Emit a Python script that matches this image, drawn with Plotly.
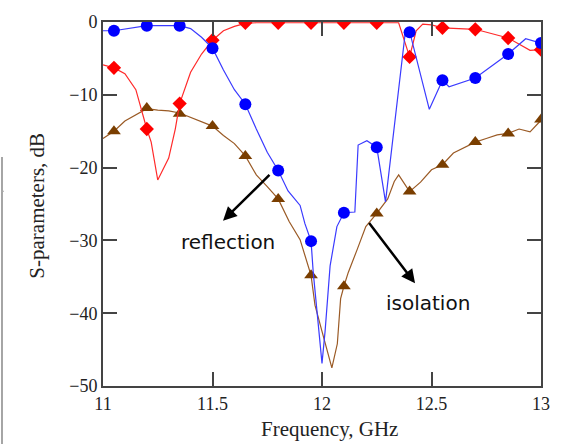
import plotly.graph_objects as go

# ---------------- data ----------------
# Reflection (blue, circles) - line samples
refl_f = [11.0, 11.05, 11.2, 11.35, 11.4, 11.45, 11.5, 11.55, 11.6, 11.65, 11.7, 11.75, 11.8,
          11.845, 11.9, 11.922, 11.95, 11.96, 11.986, 12.0, 12.014, 12.037, 12.068, 12.1,
          12.15, 12.165, 12.205, 12.25, 12.29, 12.38, 12.4, 12.49, 12.55, 12.58, 12.7,
          12.75, 12.85, 12.93, 13.0]
refl_db = [-1.2, -1.2, -0.5, -0.5, -0.9, -2.1, -3.6, -6.6, -9.3, -11.3, -14.7, -17.9, -20.4,
           -23.2, -25.2, -27.7, -30.1, -34.4, -42.5, -46.9, -42.5, -33.5, -28.1, -26.2,
           -26.1, -16.9, -16.3, -17.2, -24.7, -1.5, -1.3, -12.0, -8.0, -8.9, -7.7,
           -6.6, -4.4, -2.3, -2.9]

# Transmission (red, diamonds) - line samples
trans_f = [11.0, 11.05, 11.1, 11.15, 11.2, 11.22, 11.25, 11.3, 11.33, 11.35, 11.4, 11.45,
           11.5, 11.55, 11.6, 11.65, 11.7, 11.8, 11.95, 12.1, 12.25, 12.35, 12.4, 12.43,
           12.46, 12.5, 12.55, 12.7, 12.85, 12.95, 13.0]
trans_db = [-5.9, -6.3, -7.1, -9.3, -14.7, -16.5, -21.7, -18.7, -14.7, -11.2, -6.9, -4.4,
            -2.5, -1.2, -0.6, -0.2, -0.1, -0.1, -0.1, -0.1, -0.1, -0.1, -4.8, -1.2,
            -0.3, -0.4, -0.8, -1.0, -2.2, -3.9, -3.8]

# Isolation (brown, triangles) - line samples
iso_f = [11.0, 11.05, 11.1, 11.15, 11.2, 11.25, 11.3, 11.35, 11.4, 11.45, 11.5, 11.55, 11.6,
         11.65, 11.7, 11.75, 11.8, 11.85, 11.9, 11.95, 11.968, 12.0, 12.045, 12.07, 12.085,
         12.1, 12.12, 12.16, 12.2, 12.25, 12.3, 12.33, 12.35, 12.4, 12.45, 12.5, 12.55,
         12.6, 12.65, 12.7, 12.75, 12.8, 12.85, 12.9, 12.95, 13.0]
iso_db = [-16.0, -15.0, -13.6, -12.7, -11.9, -12.1, -12.2, -12.5, -13.1, -13.6, -14.3, -15.6,
          -16.7, -18.4, -21.0, -22.6, -24.3, -27.4, -29.9, -34.8, -38.9, -42.5, -47.5, -44.2,
          -38.0, -36.3, -34.4, -31.3, -28.1, -26.3, -24.3, -21.9, -21.0, -23.3, -22.0, -20.3,
          -19.6, -18.0, -17.2, -16.5, -16.0, -15.5, -15.3, -14.7, -15.1, -13.5]

# Marker positions (every 0.15 GHz)
mark_f = [11.05, 11.2, 11.35, 11.5, 11.65, 11.8, 11.95, 12.1, 12.25, 12.4, 12.55, 12.7, 12.85, 13.0]
refl_mark = [-1.2, -0.5, -0.5, -3.6, -11.3, -20.4, -30.1, -26.2, -17.2, -1.4, -8.0, -7.7, -4.4, -2.9]
trans_mark = [-6.3, -14.7, -11.2, -2.5, -0.1, -0.1, -0.1, -0.1, -0.1, -4.8, -0.8, -1.0, -2.2, -3.8]
iso_mark = [-15.0, -11.8, -12.6, -14.3, -18.4, -24.3, -34.8, -36.3, -26.3, -23.3, -19.6, -16.5, -15.3, -13.4]

x_ticks = [11, 11.5, 12, 12.5, 13]
x_tick_text = ["11", "11.5", "12", "12.5", "13"]
y_ticks = [0, -10, -20, -30, -40, -50]

# annotation arrows: (tip_f, tip_db, tail_f, tail_db)
refl_arrow = (11.548, -27.3, 11.767, -20.8)
iso_arrow = (12.425, -35.9, 12.21, -27.4)

# ---------------- figure ----------------
fig = go.Figure()

BROWN_L = "#9a5a25"
BROWN_M = "#7a3e00"

fig.add_trace(go.Scatter(x=iso_f, y=iso_db, mode="lines",
                         line=dict(color=BROWN_L, width=1.2), showlegend=False))
fig.add_trace(go.Scatter(x=mark_f, y=iso_mark, mode="markers",
                         marker=dict(symbol="triangle-up", size=12, color=BROWN_M), showlegend=False))

fig.add_trace(go.Scatter(x=trans_f, y=trans_db, mode="lines",
                         line=dict(color="#ff2a2a", width=1.2), showlegend=False))
fig.add_trace(go.Scatter(x=mark_f, y=trans_mark, mode="markers",
                         marker=dict(symbol="diamond", size=11, color="#ff0000"), showlegend=False))

fig.add_trace(go.Scatter(x=refl_f, y=refl_db, mode="lines",
                         line=dict(color="#3a3aff", width=1.2), showlegend=False))
fig.add_trace(go.Scatter(x=mark_f, y=refl_mark, mode="markers",
                         marker=dict(symbol="circle", size=12, color="#0000ff"), showlegend=False))

TICKFONT = dict(family="Liberation Serif, Times New Roman, serif", size=18, color="#222")
AXCOL = "#444"

fig.update_xaxes(range=[11, 13], tickvals=x_ticks, ticktext=x_tick_text,
                 ticks="inside", ticklen=14, tickwidth=1.5, tickcolor=AXCOL,
                 showline=True, linecolor=AXCOL, linewidth=2, mirror="ticks",
                 showgrid=False, zeroline=False, tickfont=TICKFONT)
fig.update_yaxes(range=[-50, 0], tickvals=y_ticks,
                 ticks="inside", ticklen=14, tickwidth=1.5, tickcolor=AXCOL,
                 showline=True, linecolor=AXCOL, linewidth=2, mirror="ticks",
                 showgrid=False, zeroline=False, tickfont=TICKFONT)

anns = []
TITLEFONT = dict(family="Liberation Serif, Times New Roman, serif", size=21, color="#222")
anns.append(dict(text="Frequency, GHz", xref="paper", yref="paper", x=0.518, y=-0.118,
                 xanchor="center", yanchor="middle", showarrow=False, font=TITLEFONT))
anns.append(dict(text="S-parameters, dB", xref="paper", yref="paper", x=-0.151, y=0.495,
                 xanchor="center", yanchor="middle", showarrow=False, textangle=-90,
                 font=TITLEFONT))
LBLFONT = dict(family="DejaVu Sans, sans-serif", size=20, color="#111")
anns.append(dict(text="reflection", xref="x", yref="y", x=11.57, y=-30.2,
                 xanchor="center", yanchor="middle", showarrow=False, font=LBLFONT))
anns.append(dict(text="isolation", xref="x", yref="y", x=12.484, y=-38.6,
                 xanchor="center", yanchor="middle", showarrow=False, font=LBLFONT))
for (tf, td, af, ad) in (refl_arrow, iso_arrow):
    anns.append(dict(text="", xref="x", yref="y", x=tf, y=td, axref="x", ayref="y",
                     ax=af, ay=ad, showarrow=True, arrowhead=2, arrowsize=1.1,
                     arrowwidth=2.5, arrowcolor="#000", standoff=0, startstandoff=0))

shapes = [
    dict(type="line", xref="paper", yref="paper", x0=-0.2306, x1=-0.2306, y0=0.629, y1=-0.17,
         line=dict(color="#888", width=1.5)),
    dict(type="line", xref="paper", yref="paper", x0=-0.2329, x1=-0.2260, y0=0.535, y1=0.535,
         line=dict(color="#aaa", width=1)),
]

fig.update_layout(width=564, height=444, autosize=False,
                  margin=dict(l=103, r=23, t=14, b=58),
                  paper_bgcolor="white", plot_bgcolor="white",
                  annotations=anns, shapes=shapes, showlegend=False)

fig.write_html("out.html")
